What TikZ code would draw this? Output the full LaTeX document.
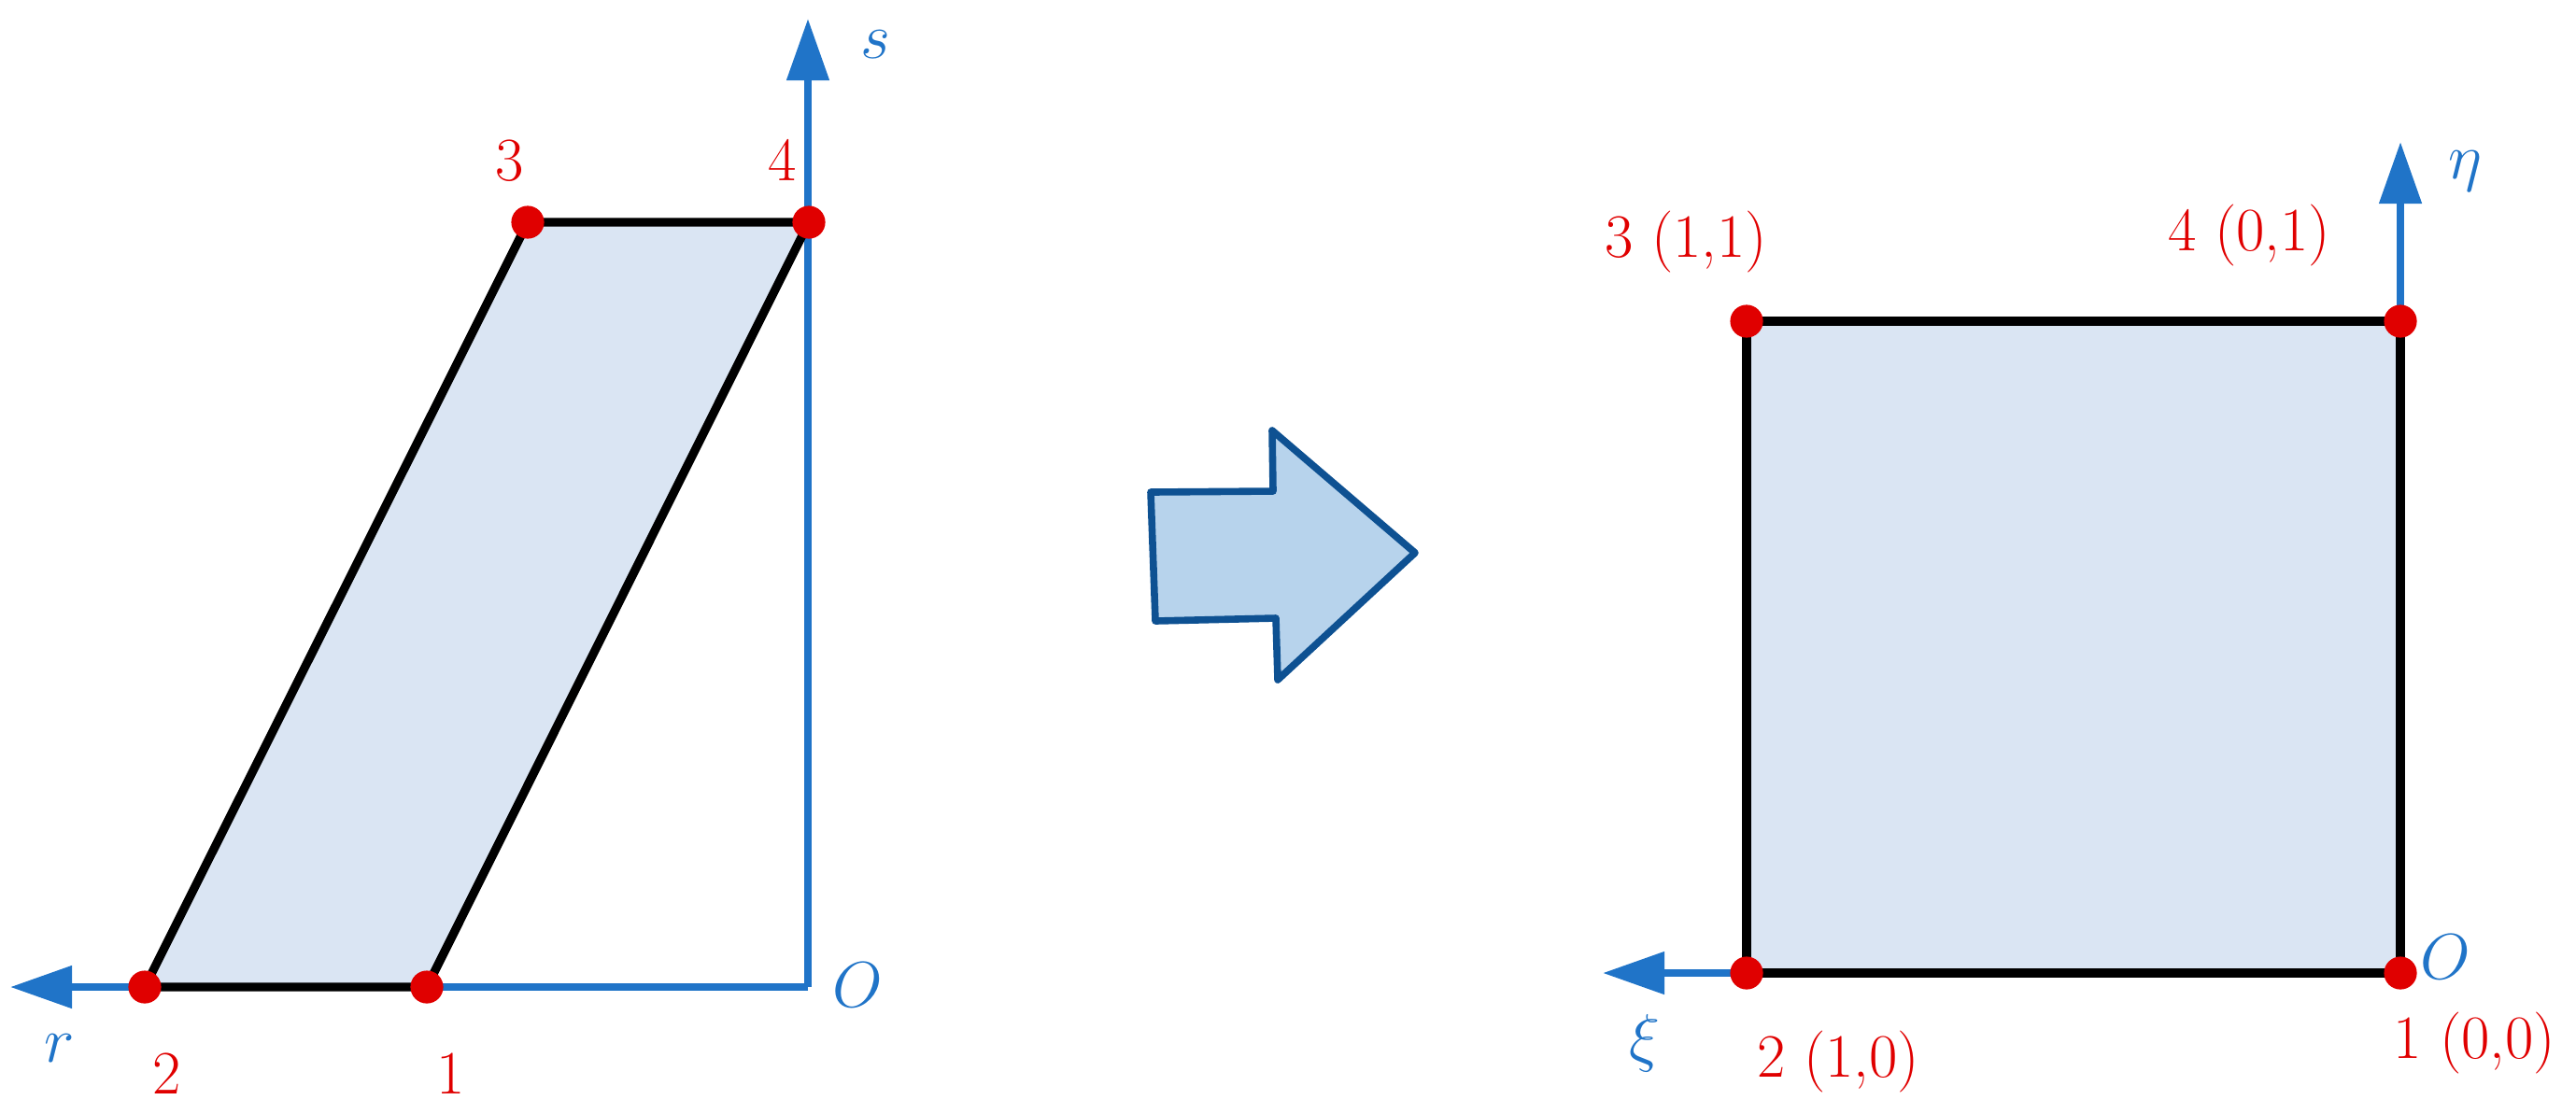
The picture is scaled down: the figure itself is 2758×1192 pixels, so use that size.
\documentclass[tikz,border=0pt]{standalone}
\usetikzlibrary{arrows.meta}
\definecolor{axblue}{RGB}{32,116,200}
\definecolor{ptred}{RGB}{224,0,0}
\definecolor{shfill}{RGB}{218,229,243}
\definecolor{bafill}{RGB}{183,211,236}
\definecolor{badraw}{RGB}{14,81,146}
\tikzset{
  axis/.style={draw=axblue,line width=2pt,-{Triangle[length=16.5pt,width=11pt]}},
  edge/.style={draw=black,line width=2.3pt,line join=round},
  dot/.style={circle,fill=ptred,inner sep=0pt,minimum size=8.8pt},
  ptlab/.style={text=ptred,anchor=base,inner sep=0pt,font=\fontsize{16.5}{19}\selectfont},
  axlab/.style={text=axblue,inner sep=0pt,font=\fontsize{16.5}{19}\selectfont},
  bigarrow/.style={draw=badraw,fill=bafill,line width=1.9pt,line join=round}
}
\begin{document}
\begin{tikzpicture}[x=0.25pt,y=-0.25pt]
\useasboundingbox (0,0) rectangle (2758,1192);
% ---------- left figure ----------
\coordinate (LO) at (865,1057);
\coordinate (Ls) at (865,20);
\coordinate (Lr) at (11,1057);
\coordinate (L1) at (457,1057);
\coordinate (L2) at (155,1057);
\coordinate (L3) at (565,238);
\coordinate (L4) at (866,238);
\fill[shfill] (L2) -- (L1) -- (L4) -- (L3) -- cycle;
\draw[axis] (LO) -- (Ls);
\draw[axis] (LO) -- (Lr);
\draw[edge] (L2) -- (L1) -- (L4) -- (L3) -- cycle;
\node[dot] (dL1) at (L1) {};
\node[dot] (dL2) at (L2) {};
\node[dot] (dL3) at (L3) {};
\node[dot] (dL4) at (L4) {};
\node[ptlab] (tL3) at (546,193) {3};
\node[ptlab] (tL4) at (838,193) {4};
\node[ptlab] (tL2) at (179,1171) {2};
\node[ptlab] (tL1) at (483,1171) {1};
\node[axlab,anchor=base] (ts) at (937,62) {$s$};
\node[axlab,anchor=base] (tr) at (64,1137) {$r$};
\node[axlab,anchor=base] (tLO) at (918,1078) {$O$};
% ---------- big arrow ----------
\draw[bigarrow] (1232,527) -- (1363,526) -- (1362,461) -- (1515,592) -- (1368,728) -- (1366,662) -- (1237,665) -- cycle;
% ---------- right figure ----------
\coordinate (R1) at (2570,1042);
\coordinate (R2) at (1870,1042);
\coordinate (R3) at (1870,344);
\coordinate (R4) at (2570,344);
\coordinate (Reta) at (2570,152);
\coordinate (Rxi) at (1716,1042);
\fill[shfill] (R1) -- (R2) -- (R3) -- (R4) -- cycle;
\draw[axis] (R1) -- (Reta);
\draw[axis] (R1) -- (Rxi);
\draw[edge] (R1) -- (R2) -- (R3) -- (R4) -- cycle;
\node[dot] (dR1) at (R1) {};
\node[dot] (dR2) at (R2) {};
\node[dot] (dR3) at (R3) {};
\node[dot] (dR4) at (R4) {};
\node[ptlab] (tR3) at (1805,275) {3 (1,1)};
\node[ptlab] (tR4) at (2408,268) {4 (0,1)};
\node[ptlab] (tR2) at (1968,1153) {2 (1,0)};
\node[ptlab] (tR1) at (2649,1133) {1 (0,0)};
\node[axlab] (teta) at (2639,183) {$\eta$};
\node[axlab] (txi) at (1761,1117) {$\xi$};
\node[axlab,anchor=base] (tRO) at (2618,1048) {$O$};
\end{tikzpicture}
\end{document}
